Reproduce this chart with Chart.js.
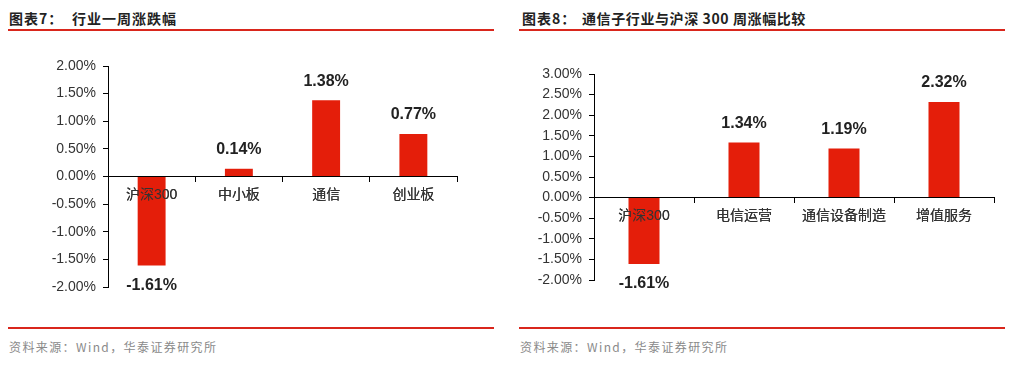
<!DOCTYPE html>
<html><head><meta charset="utf-8">
<script src="https://cdn.jsdelivr.net/npm/chart.js@4"></script>
<style>
html,body{margin:0;padding:0;background:#fff;width:1019px;height:366px;overflow:hidden;position:relative;font-family:"Liberation Sans","Noto Sans CJK SC",sans-serif;}
.title{position:absolute;top:9px;font-family:"Noto Sans CJK SC",sans-serif;font-weight:700;font-size:14px;color:#222;letter-spacing:1px;white-space:pre;line-height:18px;}
.rule{position:absolute;height:2px;background:#d9261c;}
.src{position:absolute;top:338px;font-family:"Noto Sans CJK SC",sans-serif;font-size:12px;color:#8a8a8a;letter-spacing:1.4px;white-space:pre;line-height:18px;}
canvas{position:absolute;top:40px;}
</style></head><body>
<div class="title" style="left:9px">图表7：</div>
<div class="title" style="left:72px">行业一周涨跌幅</div>
<div class="rule" style="left:8px;width:486px;top:29px"></div>
<div class="rule" style="left:8px;width:486px;top:327px"></div>
<div class="src" style="left:9px">资料来源：Wind，华泰证券研究所</div>
<div class="title" style="left:522px">图表8：</div>
<div class="title" style="left:582px;letter-spacing:0.6px">通信子行业与沪深 300 周涨幅比较</div>
<div class="rule" style="left:519px;width:486px;top:29px"></div>
<div class="rule" style="left:519px;width:486px;top:327px"></div>
<div class="src" style="left:520px">资料来源：Wind，华泰证券研究所</div>
<canvas id="c1" width="509" height="280" style="left:0px"></canvas>
<canvas id="c2" width="510" height="280" style="left:509px"></canvas>
<script>
const categories1 = ['沪深300', '中小板', '通信', '创业板'];
const values1 = [-1.61, 0.14, 1.38, 0.77];
const yMin1 = -2, yMax1 = 2;
const categories2 = ['沪深300', '电信运营', '通信设备制造', '增值服务'];
const values2 = [-1.61, 1.34, 1.19, 2.32];
const yMin2 = -2, yMax2 = 3;
const yStep = 0.5;

const BAR = '#e41e0a';
const FONT = '"Liberation Sans", Arial, "Noto Sans CJK SC", sans-serif';

const valueLabels = {
  id: 'valueLabels',
  afterDatasetsDraw(chart) {
    const ctx = chart.ctx;
    // category labels drawn on top of the bars, as in the reference
    chart.scales.x.drawLabels(chart.chartArea);
    const meta = chart.getDatasetMeta(0);
    const data = chart.data.datasets[0].data;
    ctx.save();
    ctx.font = 'bold 16px ' + FONT;
    ctx.fillStyle = '#222';
    ctx.textAlign = 'center';
    ctx.textBaseline = 'middle';
    meta.data.forEach((el, i) => {
      const v = data[i];
      const y = v >= 0 ? el.y - 19 : el.y + 20;
      ctx.fillText(v.toFixed(2) + '%', el.x, y);
    });
    ctx.restore();
  }
};

function makeChart(id, cats, vals, ymin, ymax, axisW, pad, barPct) {
  return new Chart(document.getElementById(id), {
    type: 'bar',
    data: { labels: cats, datasets: [{ data: vals, backgroundColor: BAR, borderWidth: 0, barPercentage: barPct, categoryPercentage: 1 }] },
    options: {
      responsive: false, animation: false,
      layout: { padding: pad },
      plugins: { legend: { display: false }, tooltip: { enabled: false } },
      scales: {
        x: {
          position: { y: 0 },
          grid: { display: true, drawOnChartArea: false, drawTicks: true, tickLength: 5, color: '#000', offset: true },
          border: { display: true, color: '#000', width: 1 },
          ticks: { color: '#333', font: { size: 14, family: FONT }, padding: 5, maxRotation: 0, autoSkip: false }
        },
        y: {
          min: ymin, max: ymax,
          afterFit: s => { s.width = axisW; },
          grid: { display: true, drawOnChartArea: false, drawTicks: true, tickLength: 5, color: '#000' },
          border: { display: true, color: '#000', width: 1 },
          ticks: { stepSize: yStep, color: '#333', font: { size: 14, family: FONT }, padding: 7,
                   callback: v => Number(v).toFixed(2) + '%' }
        }
      }
    },
    plugins: [valueLabels]
  });
}

makeChart('c1', categories1, values1, yMin1, yMax1, 108, { top: 26, bottom: 33, left: 0, right: 52 }, 0.32);
makeChart('c2', categories2, values2, yMin2, yMax2, 85, { top: 34, bottom: 40, left: 0, right: 25 }, 0.31);
</script>
</body></html>
